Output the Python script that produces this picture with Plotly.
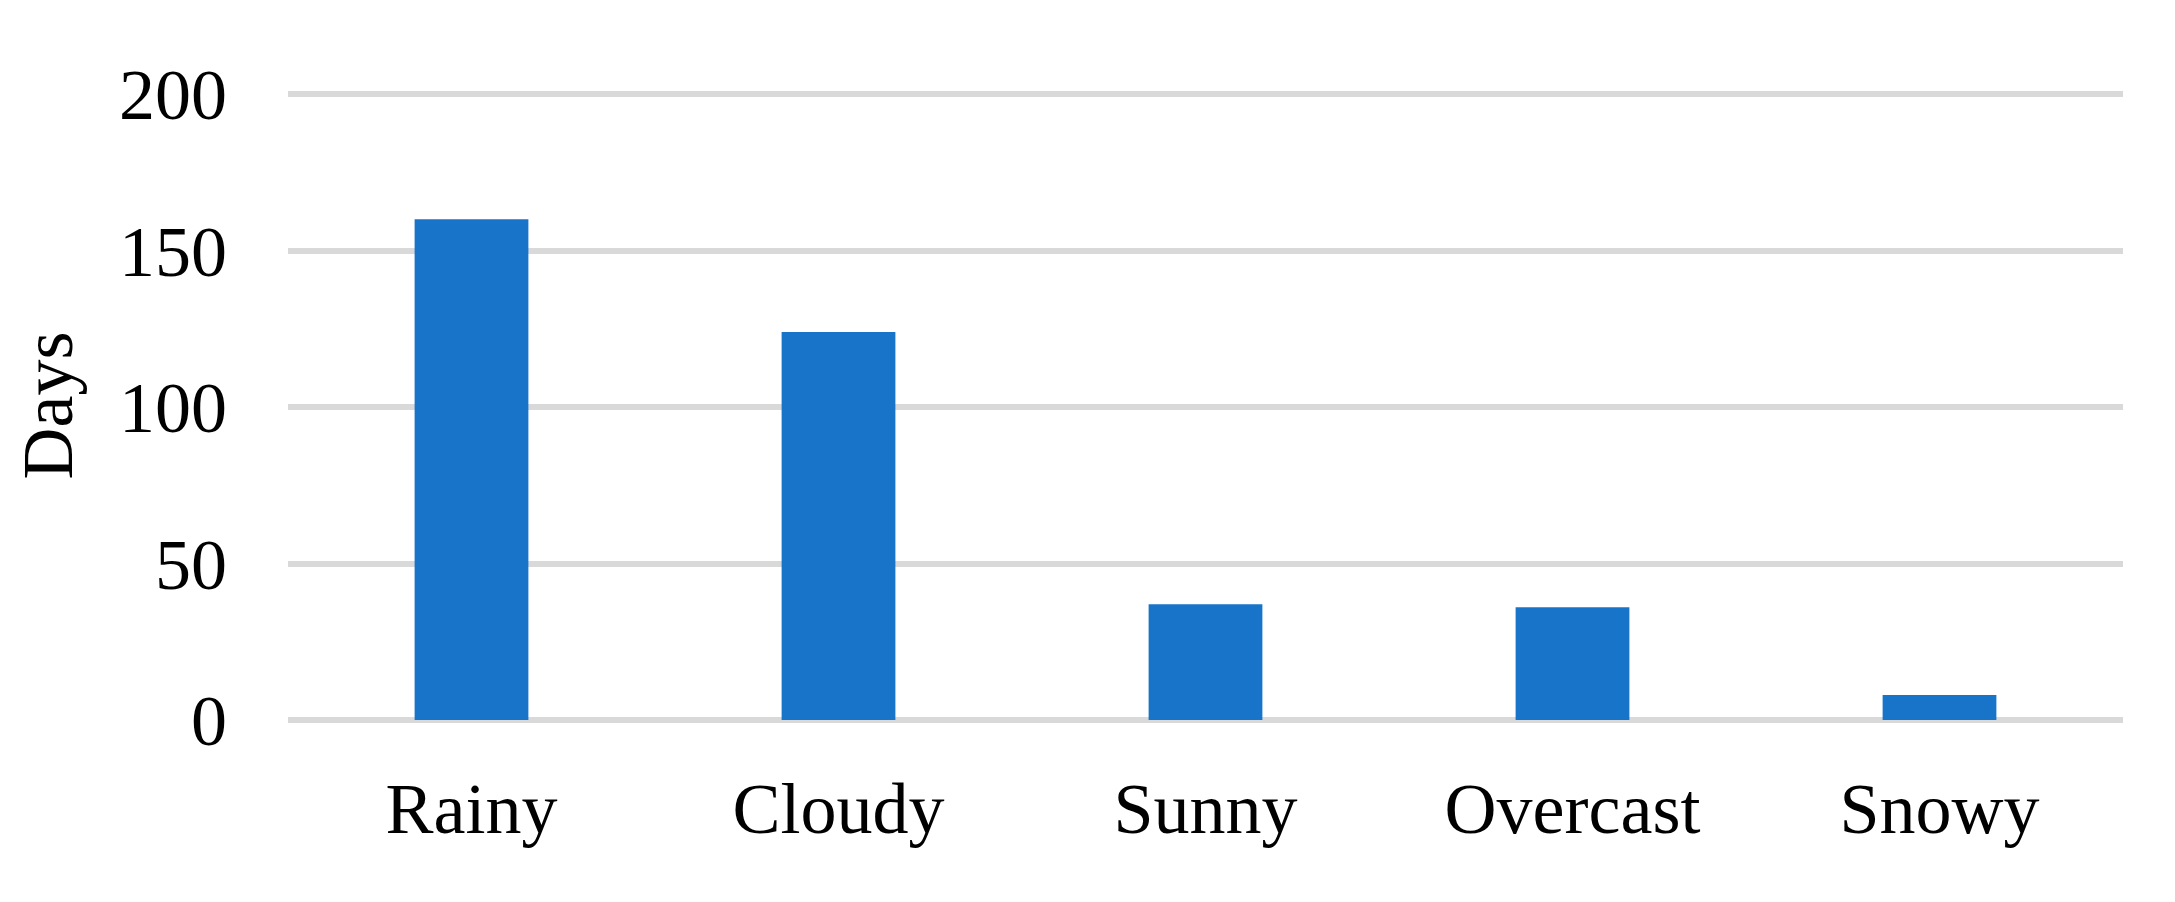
import plotly.graph_objects as go

weather = ["Rainy", "Cloudy", "Sunny", "Overcast", "Snowy"]
days = [160, 124, 37, 36, 8]
y_ticks = [0, 50, 100, 150, 200]

font = "Liberation Serif, Times New Roman, serif"

fig = go.Figure(go.Bar(x=weather, y=days, marker_color="#1874C8", marker_line_width=0))

fig.update_layout(
    width=2175, height=902,
    margin=dict(l=280, r=60, t=83, b=190),
    paper_bgcolor="white", plot_bgcolor="white",
    bargap=0.69,
    showlegend=False,
    font=dict(family=font, size=72, color="black"),
)
fig.update_xaxes(showgrid=False, showline=False, ticks="", ticklabelstandoff=40,
                 tickfont=dict(size=72))
# a bit of headroom above 200 so the top gridline is not clipped at the edge
fig.update_yaxes(range=[0, 201], tickvals=y_ticks, showgrid=True, gridcolor="#D9D9D9",
                 gridwidth=6, zeroline=True, zerolinecolor="#D9D9D9", zerolinewidth=6,
                 showline=False, ticks="", ticklabelstandoff=60,
                 tickfont=dict(size=72),
                 title=dict(text="Days", standoff=40, font=dict(size=72)))

fig.write_html("out.html")
